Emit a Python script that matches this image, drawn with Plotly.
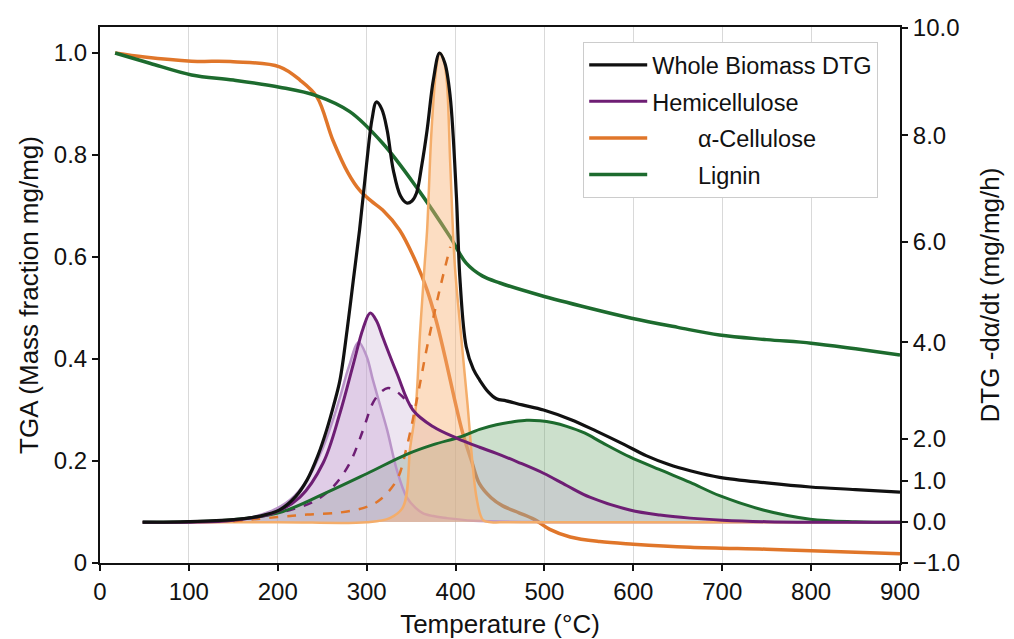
import plotly.graph_objects as go

# ---------------- data ----------------
# TGA curves (mass fraction, left axis)
cell_tga_T = [17, 50, 103, 150, 202, 225, 244, 262, 279, 292, 305, 318, 337, 356, 368, 379, 390, 399, 408, 418, 427, 440, 453, 472, 489, 506, 529, 562, 600, 664, 750, 800, 900]
cell_tga_v = [1.0, 0.992, 0.984, 0.983, 0.973, 0.947, 0.914, 0.829, 0.765, 0.731, 0.71, 0.692, 0.653, 0.588, 0.535, 0.47, 0.39, 0.32, 0.255, 0.2, 0.155, 0.128, 0.112, 0.098, 0.085, 0.066, 0.051, 0.042, 0.037, 0.031, 0.027, 0.024, 0.018]

lig_tga_T = [17, 56, 103, 150, 202, 244, 281, 318, 356, 394, 412, 430, 450, 495, 550, 598, 650, 697, 750, 800, 850, 900]
lig_tga_v = [1.0, 0.98, 0.957, 0.947, 0.933, 0.916, 0.885, 0.823, 0.737, 0.639, 0.588, 0.563, 0.549, 0.525, 0.50, 0.48, 0.462, 0.447, 0.438, 0.431, 0.42, 0.408]

# DTG curves (plotted on the DTG axis; values expressed on the shared vertical scale)
DTG_BASELINE = 0.0804

whole_T = [48, 100, 150, 180, 202, 220, 233, 245, 255, 263, 270, 278, 285, 292, 300, 306, 311, 317, 323, 330, 338, 345, 351, 356, 362, 368, 375, 382, 388, 394, 401, 405, 412, 420, 427, 437, 446, 457, 475, 499, 530, 559, 590, 615, 640, 664, 697, 750, 799, 850, 900]
whole_v = [0.08, 0.081, 0.085, 0.092, 0.104, 0.13, 0.163, 0.21, 0.261, 0.31, 0.359, 0.457, 0.555, 0.653, 0.784, 0.87, 0.904, 0.89, 0.849, 0.77, 0.72, 0.706, 0.71, 0.725, 0.78, 0.849, 0.947, 1.0, 0.98, 0.914, 0.718, 0.555, 0.424, 0.38, 0.359, 0.335, 0.322, 0.318, 0.31, 0.30, 0.281, 0.258, 0.232, 0.21, 0.193, 0.181, 0.168, 0.157, 0.149, 0.144, 0.139]

hemi_T = [48, 100, 150, 195, 225, 251, 270, 285, 296, 304, 311, 318, 334, 352, 375, 401, 427, 446, 470, 499, 525, 551, 596, 630, 664, 700, 750, 800, 900]
hemi_v = [0.08, 0.08, 0.084, 0.098, 0.129, 0.196, 0.294, 0.39, 0.46, 0.49, 0.475, 0.443, 0.372, 0.30, 0.267, 0.245, 0.227, 0.215, 0.198, 0.176, 0.152, 0.129, 0.104, 0.094, 0.088, 0.084, 0.081, 0.08, 0.08]

hemi_peak_T = [48, 150, 190, 214, 233, 251, 262, 270, 280, 291, 300, 307, 315, 323, 334, 345, 355, 363, 375, 390, 420, 500, 900]
hemi_peak_v = [0.08, 0.083, 0.1, 0.124, 0.163, 0.227, 0.28, 0.325, 0.385, 0.433, 0.405, 0.359, 0.31, 0.261, 0.182, 0.129, 0.108, 0.098, 0.092, 0.088, 0.083, 0.08, 0.08]

hemi_dash_T = [150, 190, 214, 240, 262, 281, 296, 307, 316, 324, 333, 341, 351]
hemi_dash_v = [0.083, 0.095, 0.104, 0.12, 0.149, 0.196, 0.261, 0.314, 0.335, 0.343, 0.337, 0.325, 0.306]

cell_dash_T = [150, 200, 233, 270, 300, 315, 334, 345, 357, 368, 382, 394]
cell_dash_v = [0.082, 0.09, 0.095, 0.099, 0.11, 0.124, 0.163, 0.227, 0.325, 0.424, 0.535, 0.62]

cell_peak_T = [48, 200, 300, 326, 341, 349, 355, 360, 365, 368, 373, 379, 382, 386, 390, 394, 399, 406, 413, 424, 431, 440, 460, 900]
cell_peak_v = [0.08, 0.08, 0.08, 0.088, 0.11, 0.227, 0.3, 0.45, 0.58, 0.653, 0.849, 0.98, 1.0, 0.99, 0.947, 0.784, 0.588, 0.45, 0.32, 0.124, 0.084, 0.08, 0.08, 0.08]

lig_dtg_T = [48, 100, 150, 202, 251, 300, 345, 375, 405, 427, 446, 465, 480, 495, 510, 525, 545, 565, 596, 634, 664, 697, 746, 799, 850, 900]
lig_dtg_v = [0.08, 0.081, 0.085, 0.099, 0.135, 0.175, 0.213, 0.232, 0.247, 0.262, 0.271, 0.277, 0.28, 0.279, 0.275, 0.268, 0.255, 0.236, 0.208, 0.18, 0.158, 0.132, 0.104, 0.086, 0.081, 0.08]

# axis ticks
x_ticks = [0, 100, 200, 300, 400, 500, 600, 700, 800, 900]
tga_ticks = [0, 0.2, 0.4, 0.6, 0.8, 1.0]
tga_labels = ["0", "0.2", "0.4", "0.6", "0.8", "1.0"]
dtg_labels = ["\u22121.0", "0.0", "1.0", "2.0", "4.0", "6.0", "8.0", "10.0"]
dtg_label_pos = [0.0, 0.0804, 0.161, 0.243, 0.433, 0.630, 0.839, 1.049]

# ---------------- styles ----------------
FONT = "Liberation Sans, Arial, sans-serif"
C_BLACK = "#111111"
C_PURPLE = "#6e1e74"
C_ORANGE = "#e0762a"
C_GREEN = "#1d6b2e"
C_LPURPLE = "#b994c8"
C_LORANGE = "#f4ad6a"
SM = 1.0

fig = go.Figure()


def filled(T, v, line_color, fill_color, width, yaxis="y2"):
    fig.add_trace(go.Scatter(x=[T[0], T[-1]], y=[DTG_BASELINE, DTG_BASELINE], mode="lines",
                             line=dict(width=0), showlegend=False, hoverinfo="skip", yaxis=yaxis))
    fig.add_trace(go.Scatter(x=T, y=v, mode="lines", fill="tonexty", fillcolor=fill_color,
                             line=dict(color=line_color, width=width, shape="spline", smoothing=SM),
                             showlegend=False, yaxis=yaxis))


# fills
filled(lig_dtg_T, lig_dtg_v, "rgba(0,0,0,0)", "rgba(110,165,110,0.35)", 0)
filled(hemi_T, hemi_v, "rgba(0,0,0,0)", "rgba(190,160,205,0.28)", 0)
filled(hemi_peak_T, hemi_peak_v, C_LPURPLE, "rgba(195,155,210,0.32)", 2.5)
filled(cell_peak_T, cell_peak_v, C_LORANGE, "rgba(248,180,120,0.45)", 2.5)

# dashed components
fig.add_trace(go.Scatter(x=hemi_dash_T, y=hemi_dash_v, mode="lines", yaxis="y2", showlegend=False,
                         line=dict(color=C_PURPLE, width=2.5, dash="dash", shape="spline", smoothing=SM)))
fig.add_trace(go.Scatter(x=cell_dash_T, y=cell_dash_v, mode="lines", yaxis="y2", showlegend=False,
                         line=dict(color=C_ORANGE, width=2.5, dash="dash", shape="spline", smoothing=SM)))

# main lines
fig.add_trace(go.Scatter(x=lig_dtg_T, y=lig_dtg_v, mode="lines", yaxis="y2", showlegend=False,
                         line=dict(color=C_GREEN, width=3, shape="spline", smoothing=SM)))
fig.add_trace(go.Scatter(x=hemi_T, y=hemi_v, mode="lines", yaxis="y2", name="Hemicellulose",
                         legendrank=2, legendgroup="b",
                         line=dict(color=C_PURPLE, width=3, shape="spline", smoothing=SM)))
fig.add_trace(go.Scatter(x=whole_T, y=whole_v, mode="lines", yaxis="y2", name="Whole Biomass DTG",
                         legendrank=1, legendgroup="a",
                         line=dict(color=C_BLACK, width=3.2, shape="spline", smoothing=SM)))
fig.add_trace(go.Scatter(x=cell_tga_T, y=cell_tga_v, mode="lines", yaxis="y",
                         name="\u00a0\u00a0\u00a0\u00a0\u00a0\u00a0\u00a0α-Cellulose",
                         legendrank=3, legendgroup="c",
                         line=dict(color=C_ORANGE, width=3.5, shape="spline", smoothing=SM)))
fig.add_trace(go.Scatter(x=lig_tga_T, y=lig_tga_v, mode="lines", yaxis="y",
                         name="\u00a0\u00a0\u00a0\u00a0\u00a0\u00a0\u00a0Lignin",
                         legendrank=4, legendgroup="d",
                         line=dict(color=C_GREEN, width=3.5, shape="spline", smoothing=SM)))

YR = [0, 1.051]
fig.update_layout(
    width=1014, height=639,
    margin=dict(l=100, r=114, t=27, b=76),
    paper_bgcolor="white", plot_bgcolor="white",
    font=dict(family=FONT, size=23, color="#111111"),
    xaxis=dict(range=[0, 900], tickvals=x_ticks, showgrid=True, gridcolor="#d9d9d9", gridwidth=1,
               showline=True, linecolor="#111111", linewidth=2, mirror=True, ticks="outside",
               ticklen=6, tickwidth=1.5, tickcolor="#111111", zeroline=False, automargin=False,
               tickfont=dict(size=24),
               title=dict(text="Temperature (°C)", font=dict(size=26), standoff=12)),
    yaxis=dict(range=YR, tickvals=tga_ticks, ticktext=tga_labels, showgrid=False, zeroline=False,
               showline=True, linecolor="#111111", linewidth=2, ticks="outside", ticklen=6,
               tickwidth=1.5, tickcolor="#111111", tickfont=dict(size=24), automargin=False,
               title=dict(text="TGA (Mass fraction mg/mg)", font=dict(size=26), standoff=8)),
    yaxis2=dict(range=YR, overlaying="y", side="right", tickvals=dtg_label_pos, ticktext=dtg_labels,
                showgrid=False, zeroline=False, showline=True, linecolor="#111111", linewidth=2,
                ticks="outside", ticklen=6, tickwidth=1.5, tickcolor="#111111", tickfont=dict(size=24),
                automargin=False,
                title=dict(text="DTG -dα/dt (mg/mg/h)", font=dict(size=26), standoff=22)),
    legend=dict(x=0.604, y=0.972, xanchor="left", yanchor="top", bgcolor="white",
                bordercolor="#cccccc", borderwidth=1, font=dict(size=23.5), traceorder="grouped",
                tracegroupgap=3, itemwidth=58),
)

fig.write_html("out.html")
